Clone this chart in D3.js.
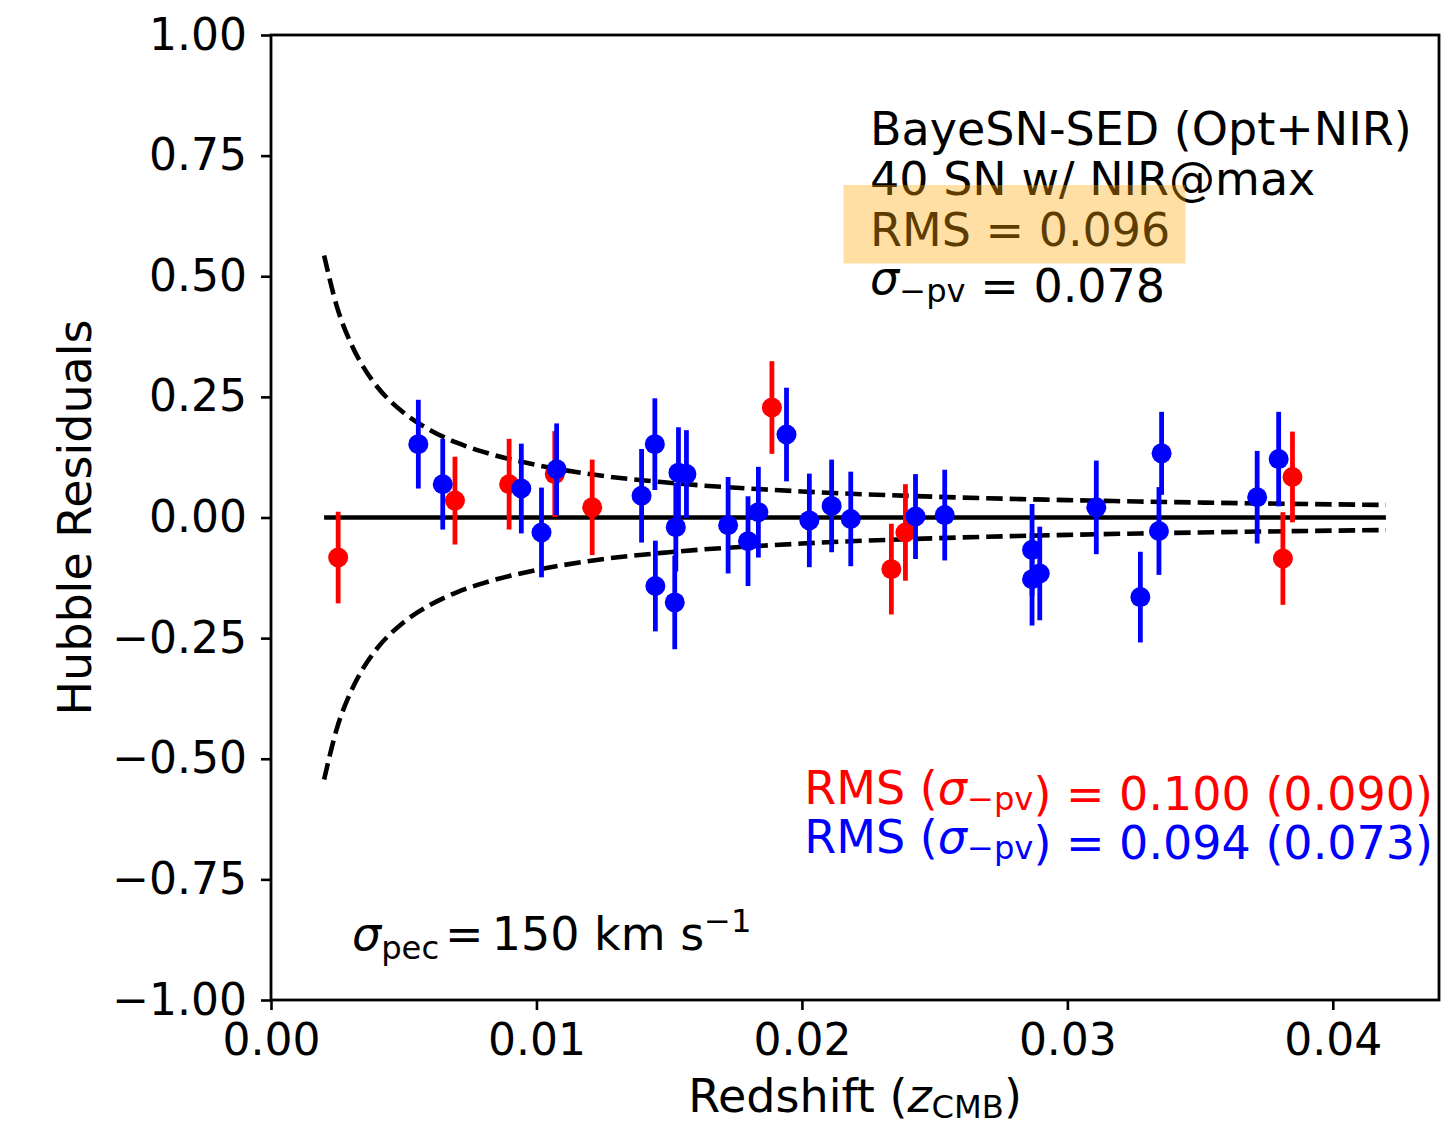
<!DOCTYPE html>
<html>
<head>
<meta charset="utf-8">
<script src="https://cdn.jsdelivr.net/npm/d3@7"></script>
<style>
  html, body { margin: 0; padding: 0; background: #fff; }
  svg text { font-family: "DejaVu Sans", sans-serif; }
</style>
</head>
<body>
<svg id="chart" width="1450" height="1125"></svg>
<script>
// ---------------- data ----------------
const redZ   = [0.00253, 0.00693, 0.00897, 0.01069, 0.01210, 0.01887, 0.02337, 0.02390, 0.03812, 0.03848];
const redHR  = [-0.083, 0.035, 0.069, 0.090, 0.021, 0.228, -0.107, -0.031, -0.085, 0.084];
const redErr = [0.095, 0.091, 0.094, 0.089, 0.099, 0.096, 0.094, 0.100, 0.096, 0.094];

const blueZ   = [0.00555, 0.00647, 0.00943, 0.01019, 0.01076, 0.01396, 0.01446, 0.01448, 0.01525, 0.01521,
                 0.01535, 0.01565, 0.01722, 0.01797, 0.01836, 0.01942, 0.02028, 0.02112, 0.02184, 0.02428,
                 0.02538, 0.02867, 0.02867, 0.02896, 0.03109, 0.03275, 0.03345, 0.03355, 0.03715, 0.03796];
const blueHR  = [0.152, 0.069, 0.060, -0.031, 0.100, 0.045, 0.152, -0.142, -0.020, -0.176,
                 0.093, 0.090, -0.016, -0.049, 0.011, 0.172, -0.006, 0.024, -0.003, 0.002,
                 0.005, -0.067, -0.128, -0.116, 0.021, -0.165, -0.028, 0.133, 0.042, 0.121];
const blueErr = [0.092, 0.094, 0.093, 0.093, 0.095, 0.097, 0.095, 0.094, 0.092, 0.097,
                 0.094, 0.091, 0.100, 0.093, 0.094, 0.097, 0.097, 0.096, 0.098, 0.088,
                 0.094, 0.095, 0.096, 0.097, 0.097, 0.094, 0.091, 0.086, 0.096, 0.098];

// peculiar-velocity envelope (sigma_pec = 150 km/s)
const envZ     = [0.0020, 0.0025, 0.0030, 0.0035, 0.0040, 0.0050, 0.0060, 0.0070, 0.0080, 0.0100,
                  0.0120, 0.0150, 0.0200, 0.0250, 0.0300, 0.0350, 0.0420];
const envSigma = [0.543, 0.434, 0.362, 0.310, 0.271, 0.217, 0.181, 0.155, 0.136, 0.109,
                  0.090, 0.072, 0.054, 0.043, 0.036, 0.031, 0.026];

const zeroLineZ = [0.002, 0.042];

const xTicks = [0.00, 0.01, 0.02, 0.03, 0.04];
const yTicks = [-1.00, -0.75, -0.50, -0.25, 0.00, 0.25, 0.50, 0.75, 1.00];
const xDomain = [0, 0.044];
const yDomain = [-1, 1];

// ---------------- layout ----------------
const L = 271, R = 1439, T = 35, B = 1000;
const TICK_FS = 44, TEXT_FS = 46;

const svg = d3.select("#chart");
const x = d3.scaleLinear().domain(xDomain).range([L, R]);
const y = d3.scaleLinear().domain(yDomain).range([B, T]);

const fmt = v => d3.format(".2f")(v).replace("-", "\u2212");

// axes
const xAxis = d3.axisBottom(x).tickValues(xTicks).tickSize(10).tickPadding(14).tickFormat(fmt);
const yAxis = d3.axisLeft(y).tickValues(yTicks).tickSize(10).tickPadding(14).tickFormat(fmt);

const gx = svg.append("g").attr("transform", `translate(0,${B})`).call(xAxis);
const gy = svg.append("g").attr("transform", `translate(${L},0)`).call(yAxis);
[gx, gy].forEach(g => {
  g.select(".domain").remove();
  g.selectAll(".tick line").attr("stroke", "#000").attr("stroke-width", 2.6);
  g.selectAll(".tick text").attr("fill", "#000").style("font-size", TICK_FS + "px")
    .style("font-family", "'DejaVu Sans', sans-serif");
});

// data layer
const plot = svg.append("g");

// dashed envelopes
const env = envZ.map((z, i) => ({z, s: envSigma[i]}));
const lineUp = d3.line().x(d => x(d.z)).y(d => y(d.s)).curve(d3.curveMonotoneX);
const lineDn = d3.line().x(d => x(d.z)).y(d => y(-d.s)).curve(d3.curveMonotoneX);
[lineUp, lineDn].forEach(gen => {
  plot.append("path").attr("d", gen(env)).attr("fill", "none").attr("stroke", "#000")
    .attr("stroke-width", 4.6).attr("stroke-dasharray", "16.5,7");
});

// zero line
plot.append("line").attr("x1", x(zeroLineZ[0])).attr("x2", x(zeroLineZ[1]))
  .attr("y1", y(0)).attr("y2", y(0)).attr("stroke", "#000").attr("stroke-width", 4.4);

function drawSeries(zs, hrs, errs, color) {
  const d = zs.map((z, i) => ({z, h: hrs[i], e: errs[i]}));
  const g = plot.append("g");
  g.selectAll("line.eb").data(d).enter().append("line")
    .attr("x1", p => x(p.z)).attr("x2", p => x(p.z))
    .attr("y1", p => y(p.h - p.e)).attr("y2", p => y(p.h + p.e))
    .attr("stroke", color).attr("stroke-width", 4.8);
  g.selectAll("circle").data(d).enter().append("circle")
    .attr("cx", p => x(p.z)).attr("cy", p => y(p.h)).attr("r", 10)
    .attr("fill", color);
}
drawSeries(redZ, redHR, redErr, "#ff0000");
drawSeries(blueZ, blueHR, blueErr, "#0000ff");

// frame
svg.append("rect").attr("x", L).attr("y", T).attr("width", R - L).attr("height", B - T)
  .attr("fill", "none").attr("stroke", "#000").attr("stroke-width", 2.8);

// axis labels
svg.append("text").attr("x", (L + R) / 2).attr("y", 1112).attr("text-anchor", "middle")
  .style("font-size", TEXT_FS + "px")
  .call(t => {
    t.append("tspan").text("Redshift (");
    t.append("tspan").style("font-style", "italic").text("z");
    t.append("tspan").attr("dy", 6).style("font-size", (TEXT_FS * 0.7) + "px").text("CMB");
    t.append("tspan").attr("dy", -6).text(")");
  });

svg.append("text").attr("transform", `translate(91,${y(0)}) rotate(-90)`)
  .attr("text-anchor", "middle").style("font-size", TEXT_FS + "px").text("Hubble Residuals");

// helper for sigma with subscript
function sigmaSub(t, sub, fs, shift) {
  t.append("tspan").style("font-style", "italic").text("\u03c3");
  t.append("tspan").attr("dy", shift).style("font-size", (fs * 0.7) + "px").text(sub);
  t.append("tspan").attr("dy", -shift).text("");
}

// top-right annotation
const annX = 870;
svg.append("text").attr("x", annX).attr("y", 145).style("font-size", TEXT_FS + "px").text("BayeSN-SED (Opt+NIR)");
svg.append("text").attr("x", annX).attr("y", 195).style("font-size", TEXT_FS + "px").text("40 SN w/ NIR@max");
svg.append("text").attr("x", annX).attr("y", 246).style("font-size", TEXT_FS + "px").text("RMS = 0.096");
svg.append("text").attr("x", annX).attr("y", 294).style("font-size", TEXT_FS + "px")
  .call(t => {
    sigmaSub(t, "\u2212pv", TEXT_FS, 8);
    t.append("tspan").text(" = 0.078");
  });
svg.append("rect").attr("x", 843.5).attr("y", 185).attr("width", 342).attr("height", 78.5)
  .attr("fill", "#ffa500").attr("fill-opacity", 0.36);

// coloured RMS lines
function rmsLine(yPos, color, txt) {
  svg.append("text").attr("x", 1433).attr("y", yPos).attr("text-anchor", "end")
    .style("font-size", TEXT_FS + "px").attr("fill", color)
    .call(t => {
      t.append("tspan").text("RMS (");
      sigmaSub(t, "\u2212pv", TEXT_FS, 6);
      t.append("tspan").text(") = " + txt);
    });
}
rmsLine(804, "#ff0000", "0.100 (0.090)");
rmsLine(853, "#0000ff", "0.094 (0.073)");

// sigma_pec label
svg.append("text").attr("x", 352).attr("y", 950).style("font-size", TEXT_FS + "px")
  .call(t => {
    t.append("tspan").style("font-style", "italic").text("\u03c3");
    t.append("tspan").attr("dy", 9).style("font-size", (TEXT_FS * 0.7) + "px").text("pec");
    t.append("tspan").attr("dy", -9).attr("dx", 6).text("=");
    t.append("tspan").attr("dx", 8).text("150 km s");
    t.append("tspan").attr("dy", -18).style("font-size", (TEXT_FS * 0.7) + "px").text("\u22121");
  });
</script>
</body>
</html>
